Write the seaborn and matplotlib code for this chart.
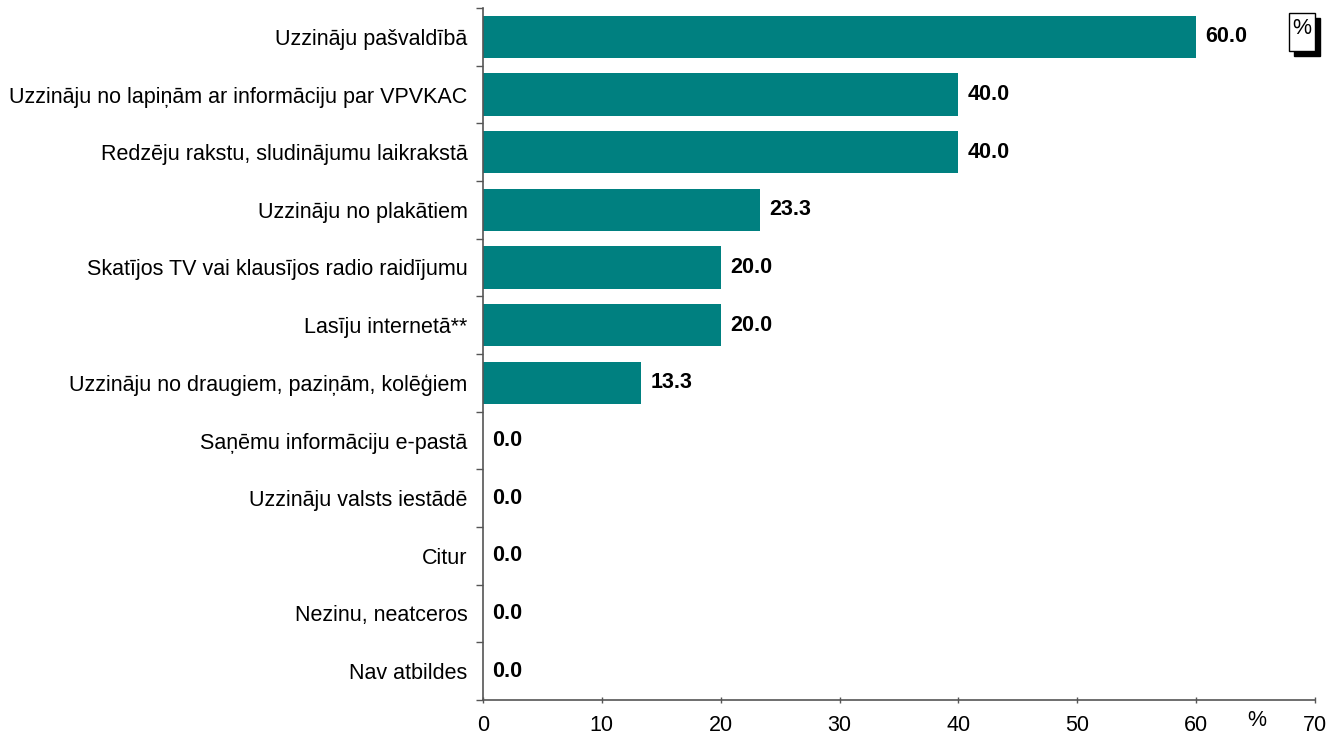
import pandas as pd
import numpy as np
import matplotlib
matplotlib.use('Agg')
import matplotlib.pyplot as plt
from matplotlib.patches import Rectangle
import seaborn as sns

# Chart data
categories = [
    'Uzzināju pašvaldībā',
    'Uzzināju no lapiņām ar informāciju par VPVKAC',
    'Redzēju rakstu, sludinājumu laikrakstā',
    'Uzzināju no plakātiem',
    'Skatījos TV vai klausījos radio raidījumu',
    'Lasīju internetā**',
    'Uzzināju no draugiem, paziņām, kolēģiem',
    'Saņēmu informāciju e-pastā',
    'Uzzināju valsts iestādē',
    'Citur',
    'Nezinu, neatceros',
    'Nav atbildes',
]
values = [60.0, 40.0, 40.0, 23.3, 20.0, 20.0, 13.3, 0.0, 0.0, 0.0, 0.0, 0.0]
x_ticks = [0, 10, 20, 30, 40, 50, 60, 70]

df = pd.DataFrame({'category': categories, 'value': values})

sns.set_theme(style='white')
plt.rcParams['font.family'] = ['Liberation Sans', 'DejaVu Sans']
plt.rcParams['text.color'] = 'black'
plt.rcParams['xtick.color'] = 'black'
plt.rcParams['ytick.color'] = 'black'

W, H = 1331, 740
fig = plt.figure(figsize=(W / 100, H / 100), dpi=100)
ax = fig.add_axes([483 / W, 40 / H, 832 / W, 692 / H])

sns.barplot(data=df, x='value', y='category', color='#008080', saturation=1,
            width=0.73, ax=ax, edgecolor='none')

ax.set_xlim(0, 70)
ax.set_ylim(len(categories) - 0.5, -0.5)
ax.set_xticks(x_ticks)
ax.set_xticklabels([str(t) for t in x_ticks], fontsize=15.5)
ax.set_xlabel('')
ax.set_ylabel('')

# category labels between tick marks
ax.set_yticks(np.arange(len(categories)))
ax.set_yticklabels(categories, fontsize=15.5)
ax.set_yticks(np.arange(len(categories) + 1) - 0.5, minor=True)
ax.tick_params(axis='y', which='major', length=0, pad=11)
ax.tick_params(axis='y', which='minor', length=5, width=1, color='#555555', direction='out', left=True)
ax.tick_params(axis='x', which='major', length=5, width=1, color='#555555', direction='inout', bottom=True, pad=8)

for side in ['top', 'right']:
    ax.spines[side].set_visible(False)
for side in ['left', 'bottom']:
    ax.spines[side].set_color('#555555')
    ax.spines[side].set_linewidth(1.2)

# value labels
for i, v in enumerate(values):
    ax.text(v + 0.8, i, f'{v:.1f}', va='center', ha='left', fontsize=15.5,
            fontweight='bold', color='black')

# unit label near x axis
fig.text(1257 / W, 1 - 720 / H, '%', ha='center', va='center', fontsize=15.5)

# boxed % with shadow in top-right corner
fig.patches.append(Rectangle((1294 / W, 1 - 56 / H), 26 / W, 38 / H,
                             transform=fig.transFigure, fc='black', ec='black', lw=1))
fig.patches.append(Rectangle((1289 / W, 1 - 51 / H), 26 / W, 38 / H,
                             transform=fig.transFigure, fc='white', ec='black', lw=1))
fig.text(1302 / W, 1 - 29 / H, '%', ha='center', va='center', fontsize=15.5)

fig.savefig('out.png', dpi=100)
